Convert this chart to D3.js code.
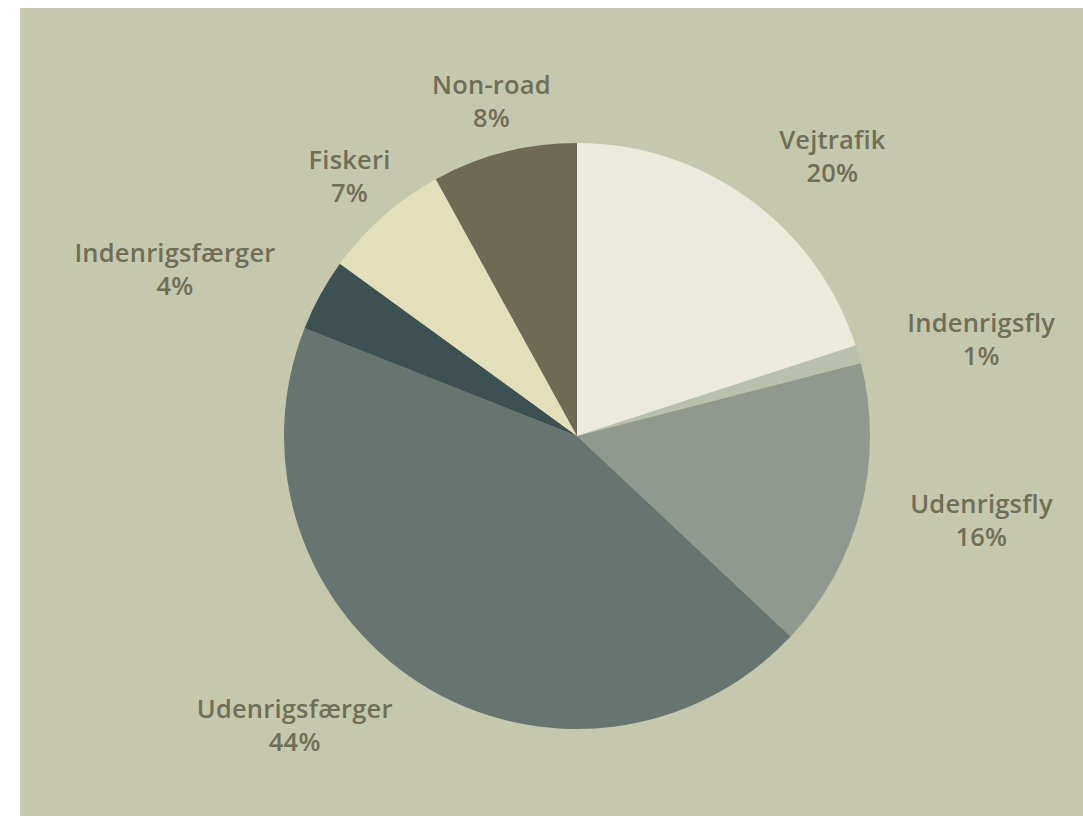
<!DOCTYPE html>
<html><head><meta charset="utf-8">
<script src="https://cdn.jsdelivr.net/npm/d3@7"></script>
<style>html,body{margin:0;padding:0;background:#fff;}svg{display:block;}</style>
</head><body>
<script>
const categories = ["Vejtrafik","Indenrigsfly","Udenrigsfly","Udenrigsfærger","Indenrigsfærger","Fiskeri","Non-road"];
const values = [20,1,16,44,4,7,8];
const colors = ["#ebeadd","#bac0ae","#8f998d","#677570","#3e5152","#e3dfbb","#6f6a53"];

const W = 1083, H = 816;
const svg = d3.select("body").append("svg").attr("width", W).attr("height", H);
svg.append("rect").attr("x",20).attr("y",8).attr("width",W-20).attr("height",H-8).attr("fill","#c5c8ad");

const cx = 577, cy = 436, R = 293, RL = 344;
const g = svg.append("g").attr("transform",`translate(${cx},${cy})`);
const data = categories.map((c,i)=>({name:c,value:values[i],color:colors[i]}));
const pie = d3.pie().value(d=>d.value).sort(null);
const arc = d3.arc().innerRadius(0).outerRadius(R);
const arcs = pie(data);
g.selectAll("path").data(arcs).join("path").attr("d",arc).attr("fill",d=>d.data.color);

const fontSize = 25.5, lineH = 33;
arcs.forEach(a=>{
  const m = (a.startAngle+a.endAngle)/2;
  const s = Math.sin(m), c = Math.cos(m);
  const x = RL*s, y = -RL*c;
  const align = s > 0 ? "start" : (c > 0.7 ? "middle" : "end");
  const t = g.append("text").attr("y",y)
    .attr("text-anchor","middle")
    .attr("font-family","'Open Sans', sans-serif").attr("font-weight",600)
    .attr("letter-spacing",0.2)
    .attr("font-size",fontSize).attr("fill","#716e58");
  const l1 = t.append("tspan").attr("dy",-lineH/2+8).text(a.data.name);
  const l2 = t.append("tspan").attr("dy",lineH).text(a.data.value+"%");
  const w = Math.max(l1.node().getComputedTextLength(), l2.node().getComputedTextLength());
  const bx = align==="start" ? x + w/2 : align==="end" ? x - w/2 : x;
  l1.attr("x",bx); l2.attr("x",bx);
});
</script>
</body></html>
